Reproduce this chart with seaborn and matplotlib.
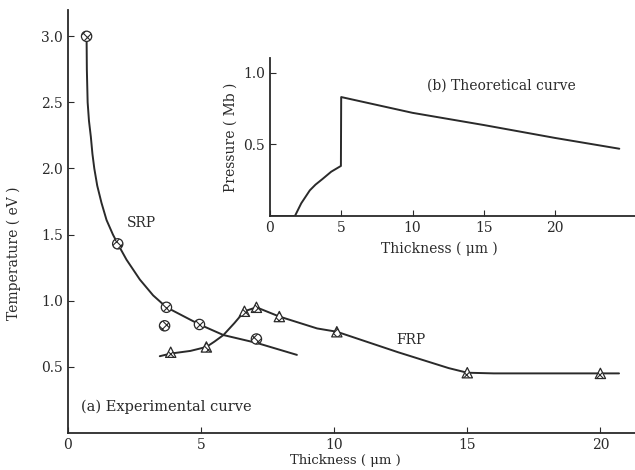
import matplotlib
matplotlib.use("Agg")
import pandas as pd
import matplotlib.pyplot as plt
import seaborn as sns

sns.set_style("ticks")
plt.rcParams['font.family'] = ['DejaVu Serif']
plt.rcParams['hatch.linewidth'] = 0.8

ink = '#2a2a2a'

# (a) experimental points
srp_x = [0.7, 1.87, 3.63, 3.7, 4.94, 7.08]
srp_y = [3.0, 1.43, 0.81, 0.95, 0.82, 0.71]
frp_x = [3.86, 5.2, 6.63, 7.08, 7.94, 10.1, 15.0, 20.0]
frp_y = [0.61, 0.65, 0.92, 0.95, 0.88, 0.765, 0.455, 0.45]

# hand-drawn fitted curves, sampled along the drawn lines
srp_curve_x = [0.7, 0.71, 0.74, 0.79, 0.86, 0.92, 0.99, 1.1, 1.26, 1.45, 1.69, 1.87, 2.2, 2.7, 3.2, 3.7, 4.94, 5.84, 7.1, 8.6]
srp_curve_y = [3.0, 2.75, 2.5, 2.36, 2.24, 2.11, 2.0, 1.87, 1.74, 1.61, 1.5, 1.43, 1.31, 1.16, 1.04, 0.95, 0.82, 0.74, 0.68, 0.59]
frp_curve_x = [3.45, 3.86, 4.6, 5.2, 5.5, 5.84, 6.25, 6.63, 7.08, 7.94, 9.36, 10.1, 12.4, 14.3, 15.0, 16.0, 20.0, 20.7]
frp_curve_y = [0.58, 0.6, 0.62, 0.65, 0.69, 0.74, 0.83, 0.92, 0.95, 0.88, 0.79, 0.765, 0.61, 0.49, 0.455, 0.45, 0.45, 0.45]

# (b) theoretical pressure curve
theo_x = [0, 1.75, 2.2, 2.8, 3.2, 3.7, 4.3, 4.98, 5.0, 10, 15, 20, 24.5]
theo_y = [0, 0, 0.09, 0.18, 0.22, 0.26, 0.31, 0.35, 0.83, 0.72, 0.635, 0.545, 0.47]

fig = plt.figure(figsize=(6.35, 4.7), dpi=100)
ax = fig.add_axes([0.107, 0.079, 0.893, 0.9])

line_kw = dict(color=ink, linewidth=1.4, sort=False, estimator=None)
sns.lineplot(x=srp_curve_x, y=srp_curve_y, ax=ax, **line_kw)
sns.lineplot(x=frp_curve_x, y=frp_curve_y, ax=ax, **line_kw)

mk_kw = dict(s=55, facecolor='white', edgecolor=ink, linewidth=0.9, hatch='xxxx', zorder=5)
sns.scatterplot(x=srp_x, y=srp_y, marker='o', ax=ax, **mk_kw)
sns.scatterplot(x=frp_x, y=frp_y, marker='^', ax=ax, **mk_kw)

ax.set_xlim(0, 21.3)
ax.set_ylim(0, 3.2)
ax.set_xticks([0, 5, 10, 15, 20])
ax.set_yticks([0.5, 1.0, 1.5, 2.0, 2.5, 3.0])
ax.set_yticklabels(['0.5', '1.0', '1.5', '2.0', '2.5', '3.0'])
ax.tick_params(direction='in', length=4, colors=ink, labelsize=10)
ax.set_xlabel('Thickness ( μm )', fontsize=9.5, color=ink, va='center')
ax.set_ylabel('Temperature ( eV )', fontsize=10, color=ink)
ax.xaxis.set_label_coords(0.49, -0.066)
ax.yaxis.set_label_coords(-0.082, 0.425)
ax.text(2.77, 1.59, 'SRP', fontsize=10, color=ink, ha='center', va='center')
ax.text(12.9, 0.70, 'FRP', fontsize=10, color=ink, ha='center', va='center')
ax.text(0.5, 0.2, '(a) Experimental curve', fontsize=10.5, color=ink, ha='left', va='center')
sns.despine(ax=ax)
for s in ['left', 'bottom']:
    ax.spines[s].set_color(ink)
    ax.spines[s].set_linewidth(1.3)

# inset
ins = fig.add_axes([0.425, 0.54, 0.575, 0.336])
ins.patch.set_alpha(0)
sns.lineplot(x=theo_x, y=theo_y, ax=ins, **line_kw)
ins.set_xlim(0, 25.6)
ins.set_ylim(0, 1.1)
ins.set_xticks([0, 5, 10, 15, 20])
ins.set_yticks([0.5, 1.0])
ins.tick_params(direction='in', length=4, colors=ink, labelsize=10)
ins.set_xlabel('Thickness ( μm )', fontsize=10, color=ink)
ins.set_ylabel('Pressure ( Mb )', fontsize=10, color=ink)
ins.xaxis.set_label_coords(0.465, -0.16)
ins.text(11.0, 0.91, '(b) Theoretical curve', fontsize=10, color=ink, ha='left', va='center')
sns.despine(ax=ins)
for s in ['left', 'bottom']:
    ins.spines[s].set_color(ink)
    ins.spines[s].set_linewidth(1.3)

fig.savefig('out.png', dpi=100)
